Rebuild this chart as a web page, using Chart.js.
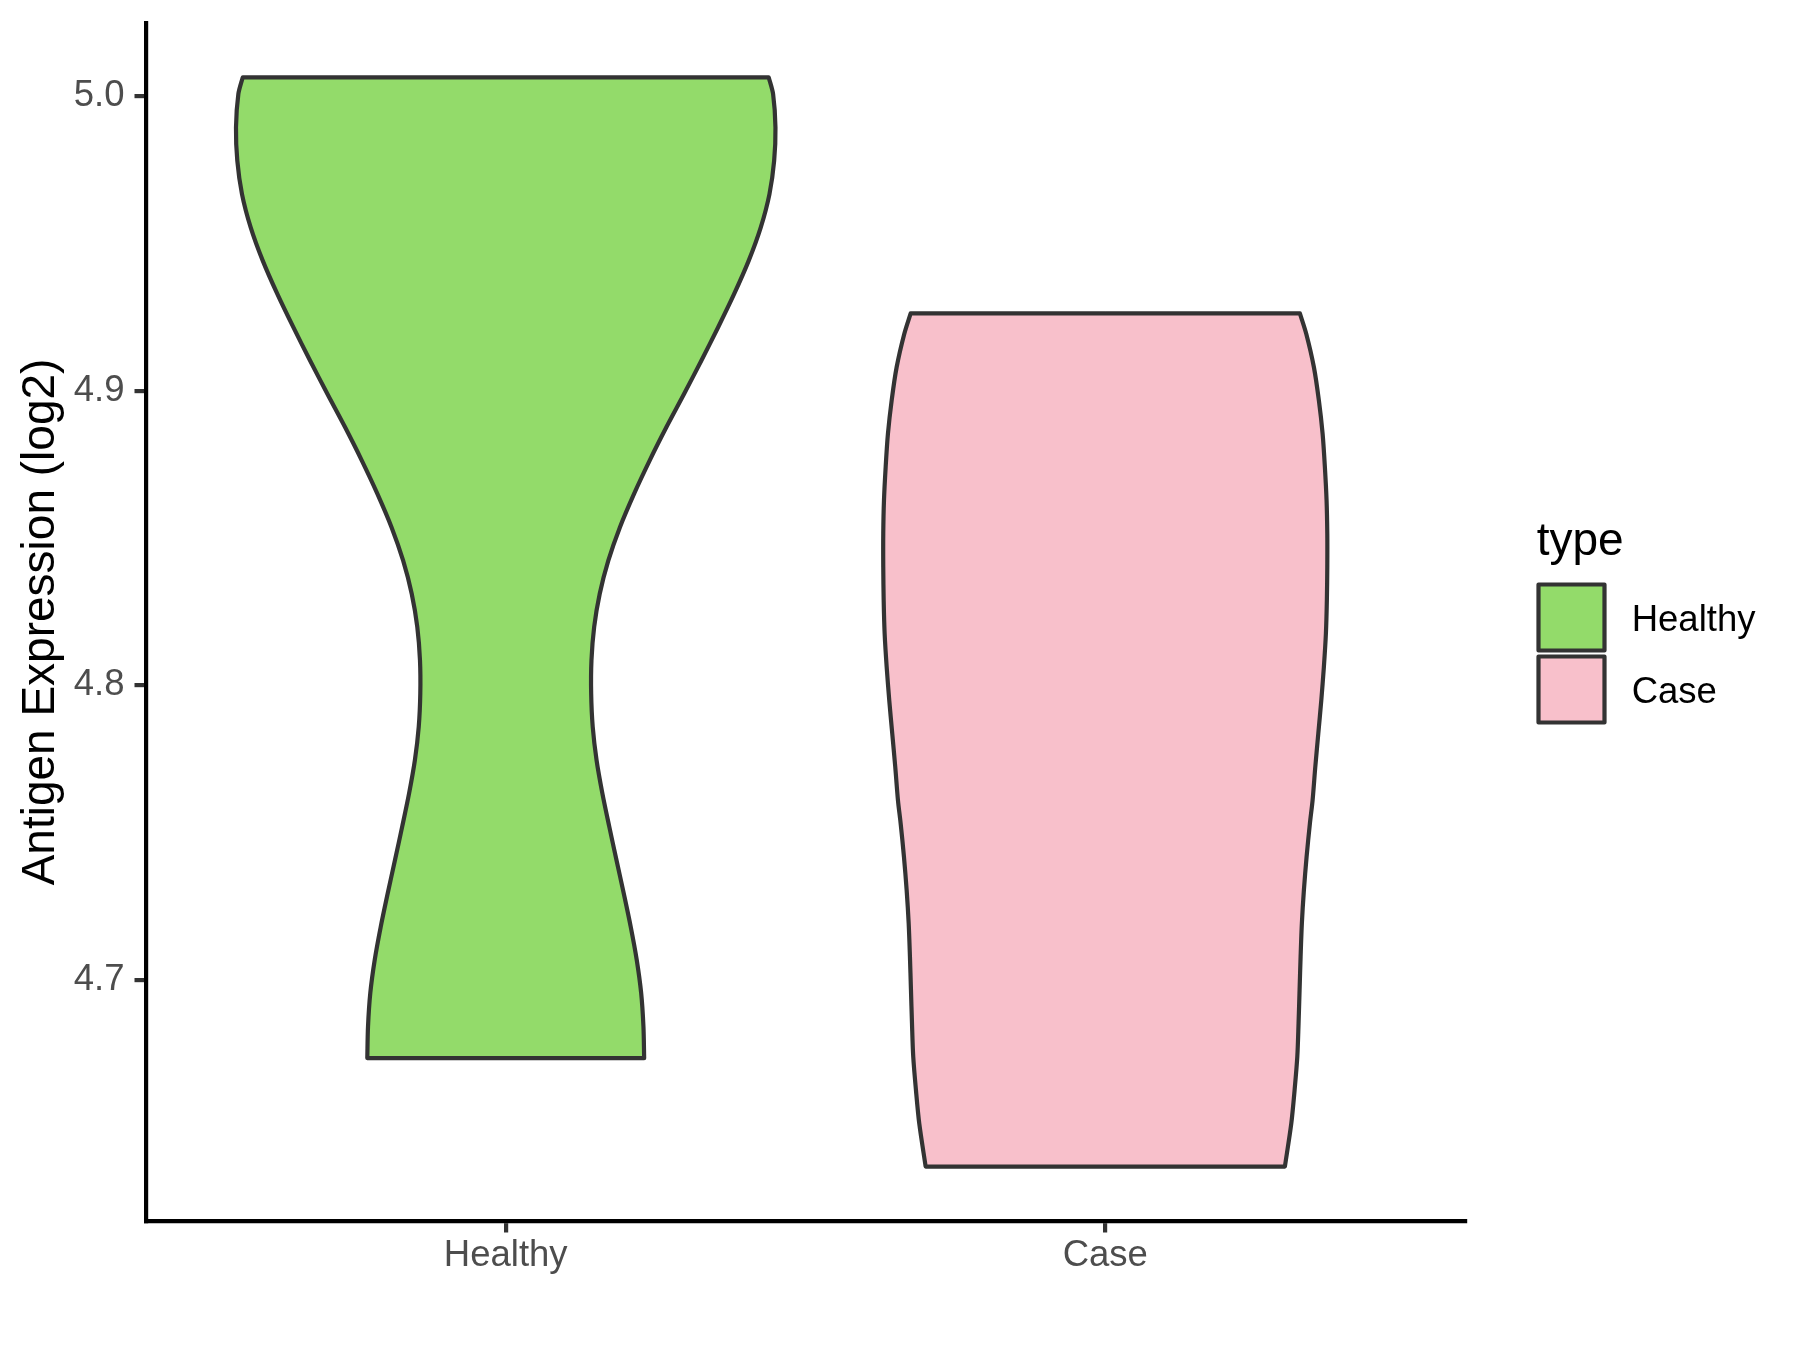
<!DOCTYPE html>
<html>
<head>
<meta charset="utf-8">
<script src="https://cdn.jsdelivr.net/npm/chart.js@4.4.1/dist/chart.umd.min.js"></script>
<style>
html,body{margin:0;padding:0;background:#ffffff;}
canvas{display:block;}
</style>
</head>
<body>
<canvas id="c" width="1800" height="1350"></canvas>
<script>
// ---- data ----
const categories = ['Healthy', 'Case'];

// Healthy violin: value (log2) and half-width (in category units)
const healthyValues = [5.0064, 5.0007, 4.9894, 4.9781, 4.9668, 4.9555, 4.9442, 4.9329, 4.9216, 4.9103,
  4.8990, 4.8877, 4.8764, 4.8651, 4.8537, 4.8424, 4.8311, 4.8198, 4.8085, 4.7972,
  4.7859, 4.7746, 4.7633, 4.7520, 4.7407, 4.7294, 4.7180, 4.7068, 4.6955, 4.6841, 4.6734];
const healthyHalfWidths = [0.4387, 0.4460, 0.4499, 0.4477, 0.4399, 0.4254, 0.4053, 0.3810, 0.3543, 0.3264,
  0.2976, 0.2681, 0.2402, 0.2142, 0.1905, 0.1712, 0.1568, 0.1475, 0.1430, 0.1425,
  0.1451, 0.1515, 0.1612, 0.1727, 0.1847, 0.1968, 0.2085, 0.2185, 0.2259, 0.2297, 0.2309];

// Case violin
const caseValues = [4.9263, 4.9193, 4.9080, 4.8967, 4.8854, 4.8741, 4.8628, 4.8515, 4.8402, 4.8289,
  4.8176, 4.8062, 4.7949, 4.7836, 4.7723, 4.7610, 4.7531, 4.7418, 4.7305, 4.7192,
  4.7079, 4.6966, 4.6853, 4.6739, 4.6626, 4.6513, 4.6366];
const caseHalfWidths = [0.3246, 0.3353, 0.3480, 0.3563, 0.3625, 0.3663, 0.3691, 0.3703, 0.3703, 0.3696,
  0.3680, 0.3646, 0.3603, 0.3553, 0.3503, 0.3458, 0.3413, 0.3358, 0.3313, 0.3279,
  0.3258, 0.3241, 0.3224, 0.3203, 0.3158, 0.3103, 0.2996];

const yTicks = [4.7, 4.8, 4.9, 5.0];
const yTitle = 'Antigen Expression (log2)';
const legendTitle = 'type';
const fillColors = ['#93DB6A', '#F8C0CB'];
const outlineColor = '#333333';

// ---- helpers ----
const FONT = '"Liberation Sans", Arial, Helvetica, sans-serif';
const LW = 4.2;

// closed outline: centre-top, down the left side, across the bottom, up the right side.
// Corner points are repeated so the smoothed sides keep sharp corners.
function outline(pos, values, hw) {
  const n = values.length;
  const pts = [{x: pos, y: values[0]}];
  for (let i = 0; i < n; i++) {
    const p = {x: pos - hw[i], y: values[i]};
    pts.push(p);
    if (i === 0 || i === n - 1) pts.push({x: p.x, y: p.y});
  }
  for (let i = n - 1; i >= 0; i--) {
    const p = {x: pos + hw[i], y: values[i]};
    pts.push(p);
    if (i === 0 || i === n - 1) pts.push({x: p.x, y: p.y});
  }
  pts.push({x: pos, y: values[0]});
  return pts;
}

const allValues = healthyValues.concat(caseValues);
const dMin = Math.min(...allValues);
const dMax = Math.max(...allValues);
const yPad = (dMax - dMin) * 0.05;

const legendPlugin = {
  id: 'ggLegend',
  afterDraw(chart) {
    const c = chart.ctx;
    c.save();
    c.textAlign = 'left';
    c.textBaseline = 'alphabetic';
    c.fillStyle = '#000000';
    c.font = '46px ' + FONT;
    c.fillText(legendTitle, 1536.7, 555);
    categories.forEach((cat, i) => {
      const cy = 617.5 + i * 72;
      c.fillStyle = fillColors[i];
      c.fillRect(1538.5, cy - 33, 66, 66);
      c.strokeStyle = outlineColor;
      c.lineWidth = LW;
      c.lineJoin = 'round';
      c.strokeRect(1538.5, cy - 33, 66, 66);
      c.fillStyle = '#000000';
      c.font = '36.5px ' + FONT;
      c.fillText(cat, 1631.7, 630.7 + i * 72);
    });
    c.restore();
  }
};

const axisGrid = {
  display: true, drawOnChartArea: false, drawTicks: true,
  tickLength: 11.5, lineWidth: LW, color: outlineColor
};
const axisBorder = {display: true, color: '#000000', width: LW};

new Chart(document.getElementById('c').getContext('2d'), {
  type: 'scatter',
  data: {
    datasets: [
      {
        label: categories[0],
        data: outline(1, healthyValues, healthyHalfWidths),
        showLine: true, fill: 'shape',
        backgroundColor: fillColors[0], borderColor: outlineColor, borderWidth: LW,
        pointRadius: 0, pointHoverRadius: 0, tension: 0.3, borderJoinStyle: 'round'
      },
      {
        label: categories[1],
        data: outline(2, caseValues, caseHalfWidths),
        showLine: true, fill: 'shape',
        backgroundColor: fillColors[1], borderColor: outlineColor, borderWidth: LW,
        pointRadius: 0, pointHoverRadius: 0, tension: 0.3, borderJoinStyle: 'round'
      }
    ]
  },
  options: {
    responsive: false,
    animation: false,
    devicePixelRatio: 1,
    events: [],
    layout: {padding: {left: 0, right: 335, top: 23, bottom: 0}},
    plugins: {legend: {display: false}, tooltip: {enabled: false}},
    scales: {
      x: {
        type: 'linear', position: 'bottom', min: 0.4, max: 2.6,
        afterBuildTicks: (s) => { s.ticks = categories.map((c, i) => ({value: i + 1})); },
        afterFit: (s) => { s.height = 129; s.paddingLeft = 0; s.paddingRight = 0; },
        ticks: {
          callback: (v) => categories[Math.round(v) - 1],
          font: {family: FONT, size: 36.5}, color: '#4D4D4D',
          padding: 2, maxRotation: 0, autoSkip: false
        },
        grid: axisGrid,
        border: axisBorder
      },
      y: {
        type: 'linear', position: 'left', min: dMin - yPad, max: dMax + yPad,
        afterBuildTicks: (s) => { s.ticks = yTicks.map(v => ({value: v})); },
        afterFit: (s) => { s.width = 146; s.paddingTop = 0; s.paddingBottom = 0; },
        ticks: {
          callback: (v) => Number(v).toFixed(1),
          font: {family: FONT, size: 36.5}, color: '#4D4D4D',
          padding: 10, autoSkip: false
        },
        grid: axisGrid,
        border: axisBorder,
        title: {
          display: true, text: yTitle,
          font: {family: FONT, size: 46}, color: '#000000',
          padding: {top: 14, bottom: 0}
        }
      }
    }
  },
  plugins: [legendPlugin]
});
</script>
</body>
</html>
